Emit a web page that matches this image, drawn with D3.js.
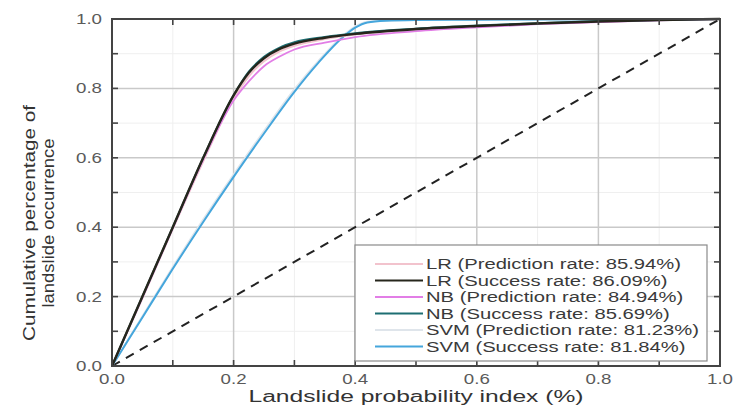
<!DOCTYPE html>
<html><head><meta charset="utf-8">
<script src="https://cdn.jsdelivr.net/npm/d3@7"></script>
<style>html,body{margin:0;padding:0;background:#fff;}svg{display:block;}</style>
</head><body>
<script>
// ---- data ----
const xGrid = [0,0.05,0.1,0.15,0.2,0.225,0.25,0.275,0.3,0.35,0.4,0.5,0.6,0.7,0.8,0.9,1.0];
const lrPrediction = [0,0.195,0.395,0.59,0.77,0.835,0.878,0.906,0.923,0.942,0.955,0.970,0.979,0.986,0.992,0.997,1];
const lrSuccess    = [0,0.20,0.40,0.60,0.78,0.845,0.887,0.913,0.929,0.946,0.957,0.971,0.980,0.987,0.993,0.997,1];
const nbPrediction = [0,0.197,0.397,0.595,0.765,0.82,0.864,0.891,0.912,0.932,0.948,0.965,0.976,0.985,0.991,0.996,1];
const nbSuccess    = [0,0.20,0.40,0.60,0.78,0.848,0.891,0.917,0.933,0.948,0.959,0.972,0.981,0.988,0.994,0.997,1];
const xSvm = [0,0.05,0.1,0.15,0.2,0.25,0.3,0.34,0.38,0.4,0.42,0.45,0.5,0.6,0.8,1.0];
const svmPrediction = [0,0.143,0.285,0.422,0.552,0.677,0.797,0.88,0.952,0.978,0.992,0.996,0.997,0.998,0.999,1];
const svmSuccess    = [0,0.14,0.28,0.415,0.545,0.67,0.79,0.875,0.948,0.975,0.99,0.995,0.997,0.998,0.999,1];
const diagonal = [0,1];
const seriesNames = ["LR (Prediction rate: 85.94%)","LR (Success rate: 86.09%)","NB (Prediction rate: 84.94%)","NB (Success rate: 85.69%)","SVM (Prediction rate: 81.23%)","SVM (Success rate: 81.84%)"];
const seriesColors = ["#f2c3cd","#26261c","#e27ee6","#1d6e72","#dfe5eb","#45a6dc"];
const majorTicks = [0,0.2,0.4,0.6,0.8,1.0];
const tickLabels = ["0.0","0.2","0.4","0.6","0.8","1.0"];
const minorTicks = [0.1,0.3,0.5,0.7,0.9];
const xTitle = "Landslide probability index (%)";
const yTitle = ["Cumulative percentage of","landslide occurrence"];

// ---- layout ----
const W=734,H=405;
const L=112,R=720,T=19,B=366;
const FONT='"Liberation Sans", Arial, sans-serif';

const svg=d3.select("body").append("svg").attr("width",W).attr("height",H);
const x=d3.scaleLinear().domain([0,1]).range([L,R]);
const y=d3.scaleLinear().domain([0,1]).range([B,T]);

function stretch(sel,f){sel.each(function(){const l=this.getComputedTextLength();d3.select(this).attr("textLength",l*f).attr("lengthAdjust","spacingAndGlyphs");});}

// grid
const g=svg.append("g");
g.selectAll(".mgx").data(minorTicks).join("line").attr("x1",d=>x(d)).attr("x2",d=>x(d)).attr("y1",T).attr("y2",B).attr("stroke","#efefef").attr("stroke-width",1);
g.selectAll(".mgy").data(minorTicks).join("line").attr("y1",d=>y(d)).attr("y2",d=>y(d)).attr("x1",L).attr("x2",R).attr("stroke","#efefef").attr("stroke-width",1);
g.selectAll(".gx").data(majorTicks.slice(1,-1)).join("line").attr("x1",d=>x(d)).attr("x2",d=>x(d)).attr("y1",T).attr("y2",B).attr("stroke","#c9c9c9").attr("stroke-width",1.5);
g.selectAll(".gy").data(majorTicks.slice(1,-1)).join("line").attr("y1",d=>y(d)).attr("y2",d=>y(d)).attr("x1",L).attr("x2",R).attr("stroke","#c9c9c9").attr("stroke-width",1.5);

// diagonal
const line=d3.line().x(d=>x(d[0])).y(d=>y(d[1]));
svg.append("path").attr("d",line(diagonal.map(v=>[v,v]))).attr("fill","none").attr("stroke","#222").attr("stroke-width",2).attr("stroke-dasharray","9,7");

// curves
const curve=d3.line().x(d=>x(d[0])).y(d=>y(d[1])).curve(d3.curveMonotoneX);
const zip=(xs,ys)=>xs.map((v,i)=>[v,ys[i]]);
const curves=[
 {data:zip(xSvm,svmPrediction),c:seriesColors[4],w:2},
 {data:zip(xSvm,svmSuccess),c:seriesColors[5],w:2},
 {data:zip(xGrid,lrPrediction),c:seriesColors[0],w:2},
 {data:zip(xGrid,nbPrediction),c:seriesColors[2],w:1.8},
 {data:zip(xGrid,nbSuccess),c:seriesColors[3],w:2},
 {data:zip(xGrid,lrSuccess),c:seriesColors[1],w:2.4}
];
svg.selectAll(".crv").data(curves).join("path").attr("d",d=>curve(d.data)).attr("fill","none").attr("stroke",d=>d.c).attr("stroke-width",d=>d.w);

// frame + ticks (inward on all sides)
const tk=svg.append("g").attr("stroke","#444").attr("stroke-width",1.6);
const allT=majorTicks.concat(minorTicks);
const TL=6;
allT.forEach(v=>{
 tk.append("line").attr("x1",x(v)).attr("x2",x(v)).attr("y1",B).attr("y2",B-TL);
 tk.append("line").attr("x1",x(v)).attr("x2",x(v)).attr("y1",T).attr("y2",T+TL);
 tk.append("line").attr("y1",y(v)).attr("y2",y(v)).attr("x1",L).attr("x2",L+TL);
 tk.append("line").attr("y1",y(v)).attr("y2",y(v)).attr("x1",R).attr("x2",R-TL);
});
svg.append("rect").attr("x",L).attr("y",T).attr("width",R-L).attr("height",B-T).attr("fill","none").attr("stroke","#444").attr("stroke-width",2);

// tick labels
const xl=svg.selectAll(".xl").data(majorTicks).join("text").attr("x",d=>x(d)).attr("y",384).attr("text-anchor","middle")
 .attr("font-family",FONT).attr("font-size",14).attr("fill","#5a5a5a").text((d,i)=>tickLabels[i]);
xl.attr("textLength",26).attr("lengthAdjust","spacingAndGlyphs");
const yl=svg.selectAll(".yl").data(majorTicks).join("text").attr("x",102).attr("y",d=>y(d)+5).attr("text-anchor","end")
 .attr("font-family",FONT).attr("font-size",14).attr("fill","#5a5a5a").text((d,i)=>tickLabels[i]);
yl.attr("textLength",26).attr("lengthAdjust","spacingAndGlyphs");

// axis titles
svg.append("text").attr("x",(L+R)/2).attr("y",402).attr("text-anchor","middle").attr("font-family",FONT).attr("font-size",16).attr("fill","#333")
 .text(xTitle).attr("textLength",335).attr("lengthAdjust","spacingAndGlyphs");
const yt=svg.append("g").attr("transform","translate(0,223) rotate(-90)");
yt.append("text").attr("x",0).attr("y",35).attr("text-anchor","middle").attr("font-family",FONT).attr("font-size",17).attr("fill","#333")
 .text(yTitle[0]).attr("textLength",236).attr("lengthAdjust","spacingAndGlyphs");
yt.append("text").attr("x",0).attr("y",54).attr("text-anchor","middle").attr("font-family",FONT).attr("font-size",17).attr("fill","#333")
 .text(yTitle[1]).attr("textLength",169).attr("lengthAdjust","spacingAndGlyphs");

// legend
const lg=svg.append("g");
lg.append("rect").attr("x",355).attr("y",245).attr("width",352).attr("height",116).attr("fill","#fff").attr("stroke","#8a8a8a").attr("stroke-width",1.2);
const rows=lg.selectAll(".row").data(seriesNames).join("g").attr("transform",(d,i)=>`translate(0,${264+i*16.5})`);
rows.append("line").attr("x1",375).attr("x2",423).attr("y1",0).attr("y2",0).attr("stroke",(d,i)=>seriesColors[i]).attr("stroke-width",2);
const lt=rows.append("text").attr("x",426).attr("y",5).attr("font-family",FONT).attr("font-size",14).attr("fill","#3a3a3a").text(d=>d);
const base=lt.node().getComputedTextLength();
stretch(lt,255/base);
</script>
</body></html>
